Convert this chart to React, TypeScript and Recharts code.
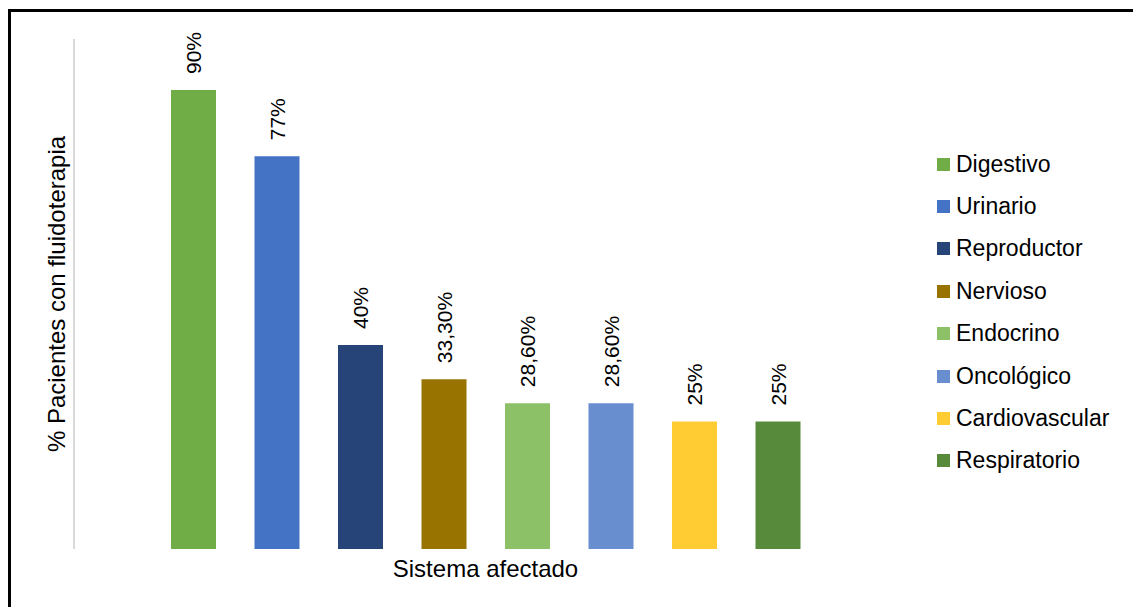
import { BarChart, Bar, XAxis, YAxis, LabelList } from "recharts";

const category = "Sistema afectado";
const systems = [
  "Digestivo",
  "Urinario",
  "Reproductor",
  "Nervioso",
  "Endocrino",
  "Oncológico",
  "Cardiovascular",
  "Respiratorio",
];
const percents = [90, 77, 40, 33.3, 28.6, 28.6, 25, 25];
const colors = [
  "#70ad47",
  "#4472c4",
  "#264478",
  "#997300",
  "#8cc168",
  "#698ed0",
  "#ffcd33",
  "#578a3a",
];

const FONT = '"Liberation Sans", Arial, sans-serif';

const row: Record<string, string | number> = { name: category };
systems.forEach((s, i) => {
  row[s] = percents[i];
});
const data = [row];

const fmt = (v: number) =>
  Number.isInteger(v) ? `${v}%` : `${v.toFixed(2).replace(".", ",")}%`;

function RotatedLabel(props: any) {
  const { x, y, width, value } = props;
  const cx = x + width / 2;
  const ty = y - 16;
  return (
    <text
      x={cx}
      y={ty}
      dy="0.36em"
      transform={`rotate(-90 ${cx} ${ty})`}
      textAnchor="start"
      fontSize={21}
      fontFamily={FONT}
      fill="#000"
    >
      {fmt(Number(value))}
    </text>
  );
}

export default function App() {
  return (
    <div
      style={{
        position: "absolute",
        left: 0,
        top: 0,
        width: 1133,
        height: 607,
        overflow: "hidden",
        background: "#fff",
        fontFamily: FONT,
      }}
    >
      <div
        style={{
          position: "absolute",
          left: 8,
          top: 9,
          width: 1200,
          height: 700,
          border: "3px solid #000",
          boxSizing: "border-box",
        }}
      />
      <div style={{ position: "absolute", left: 0, top: 0 }}>
        <BarChart
          width={1133}
          height={607}
          data={data}
          margin={{ top: 39, right: 236, bottom: 0, left: 38 }}
          barSize={45}
          barGap={38.5}
        >
          <XAxis
            dataKey="name"
            height={58}
            tick={false}
            axisLine={false}
            tickLine={false}
            label={{
              value: category,
              position: "insideTop",
              offset: 11,
              fontSize: 24,
              fontFamily: FONT,
              fill: "#000",
            }}
          />
          <YAxis
            yAxisId="left"
            width={36}
            domain={[0, 100]}
            tick={false}
            tickLine={false}
            axisLine={{ stroke: "#d9d9d9", strokeWidth: 2 }}
            label={{
              value: "% Pacientes con fluidoterapia",
              angle: -90,
              position: "center",
              fontSize: 24,
              fontFamily: FONT,
              fill: "#000",
            }}
          />
          <YAxis
            yAxisId="right"
            orientation="right"
            width={0}
            domain={[0, 100]}
            tick={false}
            tickLine={false}
            axisLine={{ stroke: "#d9d9d9", strokeWidth: 2 }}
          />
          {systems.map((s, i) => (
            <Bar
              key={s}
              yAxisId="left"
              dataKey={s}
              fill={colors[i]}
              isAnimationActive={false}
            >
              <LabelList dataKey={s} content={<RotatedLabel />} />
            </Bar>
          ))}
        </BarChart>
      </div>
      <div style={{ position: "absolute", left: 937, top: 143 }}>
        {systems.map((s, i) => (
          <div
            key={s}
            style={{
              display: "flex",
              alignItems: "center",
              height: 42.4,
              fontSize: 23,
              color: "#000",
            }}
          >
            <span
              style={{
                display: "inline-block",
                width: 13,
                height: 13,
                background: colors[i],
                marginRight: 6,
              }}
            />
            <span>{s}</span>
          </div>
        ))}
      </div>
    </div>
  );
}
